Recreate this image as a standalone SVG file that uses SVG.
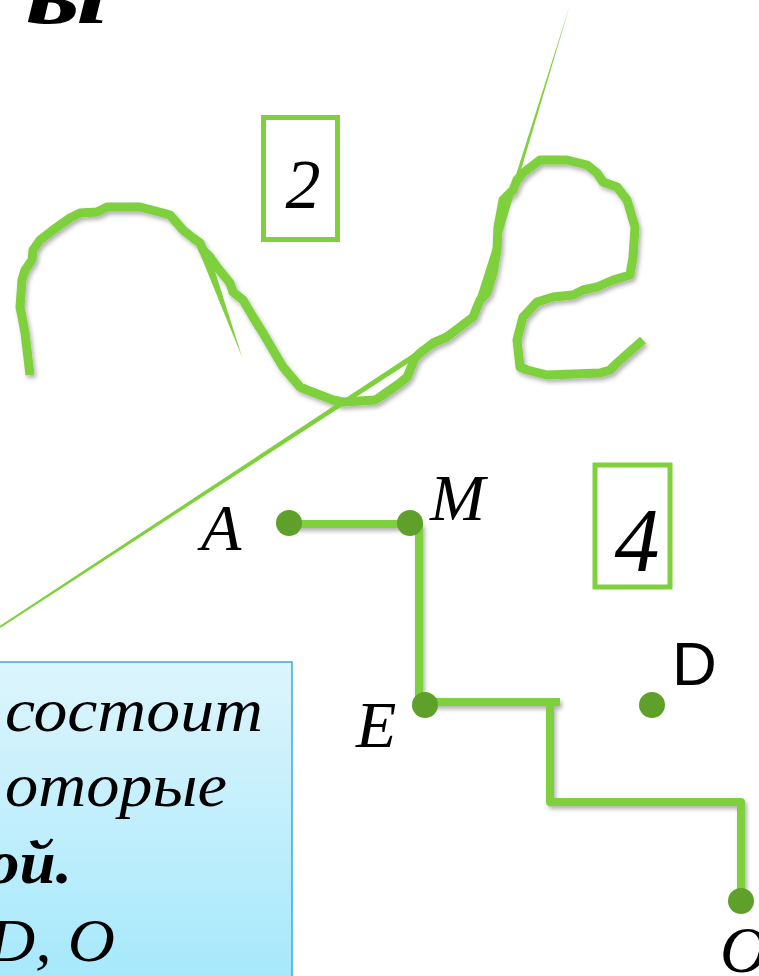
<svg xmlns="http://www.w3.org/2000/svg" width="759" height="976" viewBox="0 0 759 976">
<style>
.ln{fill:none;stroke:#7ED03C;stroke-width:8;stroke-linejoin:round;stroke-linecap:butt}
.crv{fill:none;stroke:#7ED03C;stroke-width:9;stroke-linejoin:round;stroke-linecap:butt}
.dot{fill:#5FA02A}
.wedge{fill:#7ED03C}
.lbl{font-family:"Liberation Serif",serif;font-style:italic;font-size:66px;fill:#000}
.num{font-family:"Liberation Serif",serif;font-style:italic;fill:#000;text-anchor:middle}
.frame{fill:none;stroke:#7ED03C;stroke-width:5}
.bt{font-family:"Liberation Serif",serif;font-style:italic;font-size:62px;fill:#000}
</style>
<defs>
<filter id="sh" x="-10%" y="-10%" width="130%" height="130%">
<feDropShadow dx="2" dy="3" stdDeviation="2" flood-color="#000" flood-opacity="0.3"/>
</filter>
<linearGradient id="bg" x1="0" y1="0" x2="0" y2="1">
<stop offset="0" stop-color="#DDF5FD"/>
<stop offset="1" stop-color="#A4E8FB"/>
</linearGradient>
</defs>
<rect width="759" height="976" fill="#fff"/>
<g id="title">
<text x="25" y="23" font-family="Liberation Serif,serif" font-style="italic" font-weight="bold" font-size="84" textLength="83" lengthAdjust="spacingAndGlyphs">ы</text>
</g>
<g id="infobox">
<rect x="-5" y="662" width="297" height="330" fill="url(#bg)" stroke="#35ACD8" stroke-width="1.5"/>
<text class="bt" x="5" y="731" textLength="258" lengthAdjust="spacingAndGlyphs">состоит</text>
<text class="bt" x="5" y="806" textLength="222" lengthAdjust="spacingAndGlyphs">оторые</text>
<text class="bt" x="-13" y="883" font-weight="bold" textLength="85" lengthAdjust="spacingAndGlyphs">ой.</text>
<text class="bt" x="-12" y="961" font-size="64" textLength="127" lengthAdjust="spacingAndGlyphs">D, O</text>
</g>
<g id="curve" filter="url(#sh)">
<path class="crv" d="M30,375 L25,333 L22,317 L20,307 L22,280 L25,270 L32,260 L33,250 L40,240 L53,230 L70,218 L80,213 L97,212 L107,207 L140,207 L163,213 L170,215 L183,230 L193,238 L200,243 L203,250 L210,257 L217,267 L230,283 L233,292 L243,300 L253,317 L263,333 L277,357 L283,367 L300,387 L307,390 L320,395 L333,400 L343,402 L375,400 L380,397 L400,383 L407,377 L410,370 L415,358 L420,353 L433,343 L447,337 L473,317 L480,300 L487,293 L493,273 L497,250 L498,227 L503,200 L513,190 L517,180 L523,173 L540,160 L567,160 L587,165 L597,173 L603,182 L617,187 L627,200 L635,227 L633,257 L630,275 L613,280 L597,287 L583,290 L573,295 L553,297 L537,302 L523,317 L517,340 L520,367 L527,370 L547,375 L600,373 L610,370 L617,363 L643,340"/>
</g>
<g id="wedges">
<polygon class="wedge" points="-0.5,626.2 0.5,627.8 475.6,319.5 472.4,314.5"/>
<polygon class="wedge" points="471.1,316.1 476.9,317.9 570,5"/>
<polygon class="wedge" points="196,244 207,248 214,268 242,357"/>
</g>
<g id="box2">
<rect class="frame" x="263.5" y="117.5" width="74" height="122"/>
<text class="num" x="303" y="208" font-size="70">2</text>
</g>
<g id="box4">
<rect class="frame" x="595" y="465" width="75" height="122"/>
<text class="num" x="637" y="571" font-size="90">4</text>
</g>
<g id="connectors" filter="url(#sh)">
<path class="ln" d="M289,524 L410,524"/>
<path class="ln" d="M419,523 L419,705"/>
<path class="ln" d="M425,702 L560,702"/>
<path class="ln" d="M550,702 L550,802 L741,802 L741,901"/>
</g>
<g id="nodeA"><circle class="dot" cx="289" cy="523" r="13"/><text class="lbl" x="201" y="550">A</text></g>
<g id="nodeM"><circle class="dot" cx="410" cy="523" r="13"/><text class="lbl" x="430" y="520">M</text></g>
<g id="nodeE"><circle class="dot" cx="425" cy="705" r="13"/><text class="lbl" x="356" y="747">E</text></g>
<g id="nodeD"><circle class="dot" cx="652" cy="705" r="13"/><text x="672" y="685" font-family="Liberation Sans,sans-serif" font-size="62">D</text></g>
<g id="nodeO"><circle class="dot" cx="741" cy="901" r="13"/><text class="lbl" x="720" y="972">O</text></g>
</svg>
